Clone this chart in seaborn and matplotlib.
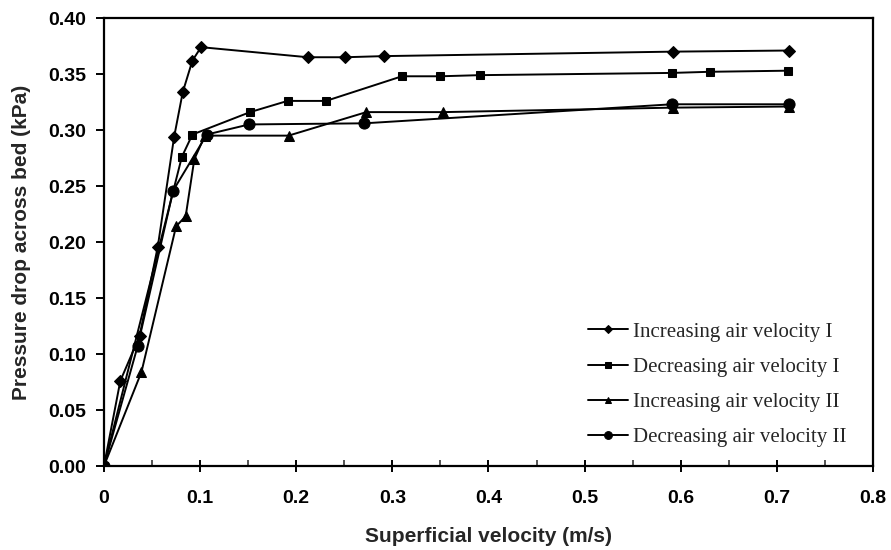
import matplotlib
matplotlib.use('Agg')
import matplotlib.pyplot as plt
import pandas as pd
import seaborn as sns
from matplotlib.ticker import MultipleLocator

# Datos
inc1_x = [0, 0.017, 0.037, 0.056, 0.073, 0.082, 0.092, 0.101, 0.212, 0.251, 0.291, 0.592, 0.713]
inc1_y = [0, 0.076, 0.116, 0.196, 0.294, 0.334, 0.362, 0.374, 0.365, 0.365, 0.366, 0.370, 0.371]

dec1_x = [0, 0.081, 0.092, 0.152, 0.191, 0.231, 0.310, 0.350, 0.391, 0.591, 0.630, 0.712]
dec1_y = [0, 0.276, 0.296, 0.316, 0.326, 0.326, 0.348, 0.348, 0.349, 0.351, 0.352, 0.353]

inc2_x = [0, 0.039, 0.075, 0.085, 0.094, 0.105, 0.192, 0.273, 0.353, 0.592, 0.713]
inc2_y = [0, 0.084, 0.214, 0.223, 0.274, 0.295, 0.295, 0.316, 0.316, 0.320, 0.321]

dec2_x = [0, 0.035, 0.072, 0.107, 0.151, 0.271, 0.591, 0.713]
dec2_y = [0, 0.107, 0.246, 0.296, 0.305, 0.306, 0.323, 0.323]

labels = ['Increasing air velocity I', 'Decreasing air velocity I',
          'Increasing air velocity II', 'Decreasing air velocity II']
markers = ['D', 's', '^', 'o']
marker_sizes = [6.5, 6, 6.5, 8]

x_ticks = [0, 0.1, 0.2, 0.3, 0.4, 0.5, 0.6, 0.7, 0.8]
x_tick_labels = ['0', '0.1', '0.2', '0.3', '0.4', '0.5', '0.6', '0.7', '0.8']
y_ticks = [0.00, 0.05, 0.10, 0.15, 0.20, 0.25, 0.30, 0.35, 0.40]

series = [(inc1_x, inc1_y), (dec1_x, dec1_y), (inc2_x, inc2_y), (dec2_x, dec2_y)]

sns.set_style('ticks')
plt.rcParams['font.family'] = ['Liberation Sans', 'DejaVu Sans']

fig = plt.figure(figsize=(8.91, 5.5), dpi=100)
ax = fig.add_axes([0.1167, 0.1527, 0.863, 0.8145])

# Una linea por serie, todas en negro con marcador distinto
for (xs, ys), lab, mk, ms in zip(series, labels, markers, marker_sizes):
    df = pd.DataFrame({'x': xs, 'y': ys})
    sns.lineplot(data=df, x='x', y='y', ax=ax, sort=False, estimator=None,
                 color='black', linewidth=1.4, marker=mk, markersize=ms,
                 markeredgecolor='black', markerfacecolor='black', label=lab)

ax.set_xlim(0, 0.8)
ax.set_ylim(0, 0.40)
ax.set_xticks(x_ticks)
ax.set_xticklabels(x_tick_labels, fontweight='bold')
ax.set_yticks(y_ticks)
ax.set_yticklabels([f'{v:.2f}' for v in y_ticks], fontweight='bold')
ax.xaxis.set_minor_locator(MultipleLocator(0.05))

ax.tick_params(axis='x', which='major', direction='inout', length=9, width=1.4,
               labelsize=14, pad=13, colors='black')
ax.tick_params(axis='x', which='minor', direction='in', length=4, width=1.1)
ax.tick_params(axis='y', which='major', direction='out', length=6, width=1.4,
               labelsize=14, pad=7, colors='black')

for s in ax.spines.values():
    s.set_visible(True)
    s.set_linewidth(1.6)
    s.set_color('black')

ax.set_xlabel('Superficial velocity (m/s)', fontsize=15, fontweight='bold', labelpad=14)
ax.set_ylabel('Pressure drop across bed (kPa)', fontsize=15, fontweight='bold', labelpad=12)

leg = ax.legend(loc='lower left', bbox_to_anchor=(0.605, 0.0), frameon=False,
                prop={'family': 'Liberation Serif', 'size': 15},
                handlelength=1.9, handletextpad=0.25, labelspacing=0.75,
                markerscale=0.7)

fig.savefig('out.png', dpi=100)
